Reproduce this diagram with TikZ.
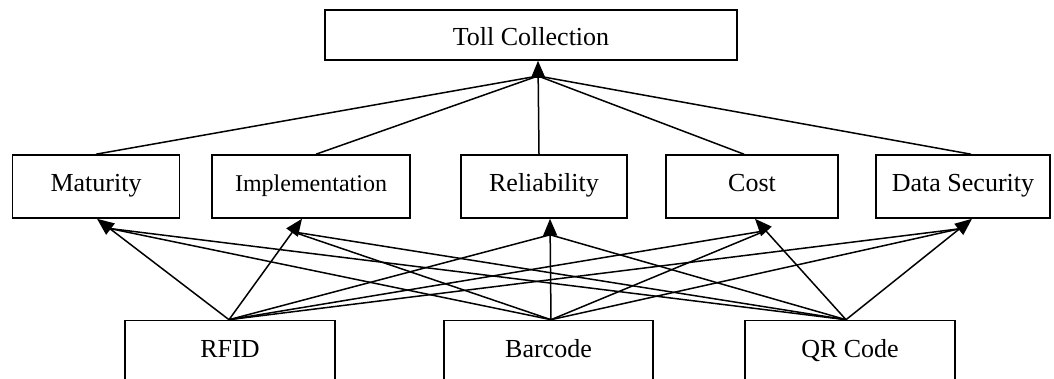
\documentclass[tikz,border=0pt]{standalone}
\usepackage{fontspec}
\setmainfont{Liberation Serif}
\usetikzlibrary{arrows.meta,calc}
\begin{document}
\begin{tikzpicture}[x=1pt,y=-1pt,
  box/.style={draw,line width=1.6pt,inner sep=0pt,font=\fontsize{26}{30}\selectfont,text height=18pt,text depth=8pt},
  conn/.style={line width=1.5pt},
  arr/.style={conn,-{Triangle[length=17pt,width=14pt]}}]
\useasboundingbox (0,0) rectangle (1054,379);
\clip (0,0) rectangle (1054,379);
% top
\node[box,minimum width=412pt,minimum height=50pt,text height=22pt,text depth=0pt] (toll) at (531,35) {Toll Collection};
% criteria
\node[box,minimum width=167pt,minimum height=63pt] (mat) at (96,186.5) {Maturity};
\node[box,minimum width=198pt,minimum height=63pt,font=\fontsize{24}{28}\selectfont] (imp) at (311,186.5) {Implementation};
\node[box,minimum width=166pt,minimum height=63pt] (rel) at (544,186.5) {Reliability};
\node[box,minimum width=172pt,minimum height=63pt] (cost) at (752,186.5) {Cost};
\node[box,minimum width=174pt,minimum height=63pt] (ds) at (963,186.5) {Data Security};
% alternatives
\node[box,minimum width=210pt,minimum height=63pt] (rfid) at (230,352) {RFID};
\node[box,minimum width=209pt,minimum height=63pt] (bar) at (548.5,352) {Barcode};
\node[box,minimum width=210pt,minimum height=63pt] (qr) at (850,352) {QR Code};
% connectors to top
\coordinate (hubT) at (538,76);
\draw[conn] (mat.north) -- (hubT);
\draw[conn] ([xshift=5pt]imp.north) -- (hubT);
\draw[conn] ([xshift=-8pt]cost.north) -- (hubT);
\draw[conn] ([xshift=8pt]ds.north) -- (hubT);
\draw[arr] ([xshift=-5pt]rel.north) -- ([xshift=7pt]toll.south);
% sources and tips
\coordinate (sR) at ([xshift=-1pt]rfid.north);
\coordinate (sB) at ([xshift=2.5pt]bar.north);
\coordinate (sQ) at ([xshift=-4pt]qr.north);
\coordinate (tM) at ([xshift=1pt]mat.south);
\coordinate (tI) at ([xshift=-9pt]imp.south);
\coordinate (tR) at ([xshift=6pt]rel.south);
\coordinate (tC) at ([xshift=3pt]cost.south);
\coordinate (tD) at ([xshift=9pt]ds.south);
\coordinate (hM) at ($(tM)!16pt!(sR)$);
\coordinate (hI) at ($(tI)!16pt!(sR)$);
\coordinate (hR) at ($(tR)!16pt!(sB)$);
\coordinate (hC) at ($(tC)!16pt!(sQ)$);
\coordinate (hD) at ($(tD)!16pt!(sQ)$);
% Maturity
\draw[arr] (sR) -- (tM);
\draw[conn] (sB) -- (hM);
\draw[conn] (sQ) -- (hM);
% Implementation
\draw[arr] (sR) -- (tI);
\draw[conn] (sB) -- (hI);
\draw[conn] (sQ) -- (hI);
% Reliability
\draw[arr] (sB) -- (tR);
\draw[conn] (sR) -- (hR);
\draw[conn] (sQ) -- (hR);
% Cost
\draw[arr] (sQ) -- (tC);
\draw[conn] (sR) -- (hC);
\draw[conn] (sB) -- (hC);
% Data Security
\draw[arr] (sQ) -- (tD);
\draw[conn] (sR) -- (hD);
\draw[conn] (sB) -- (hD);
\end{tikzpicture}
\end{document}
